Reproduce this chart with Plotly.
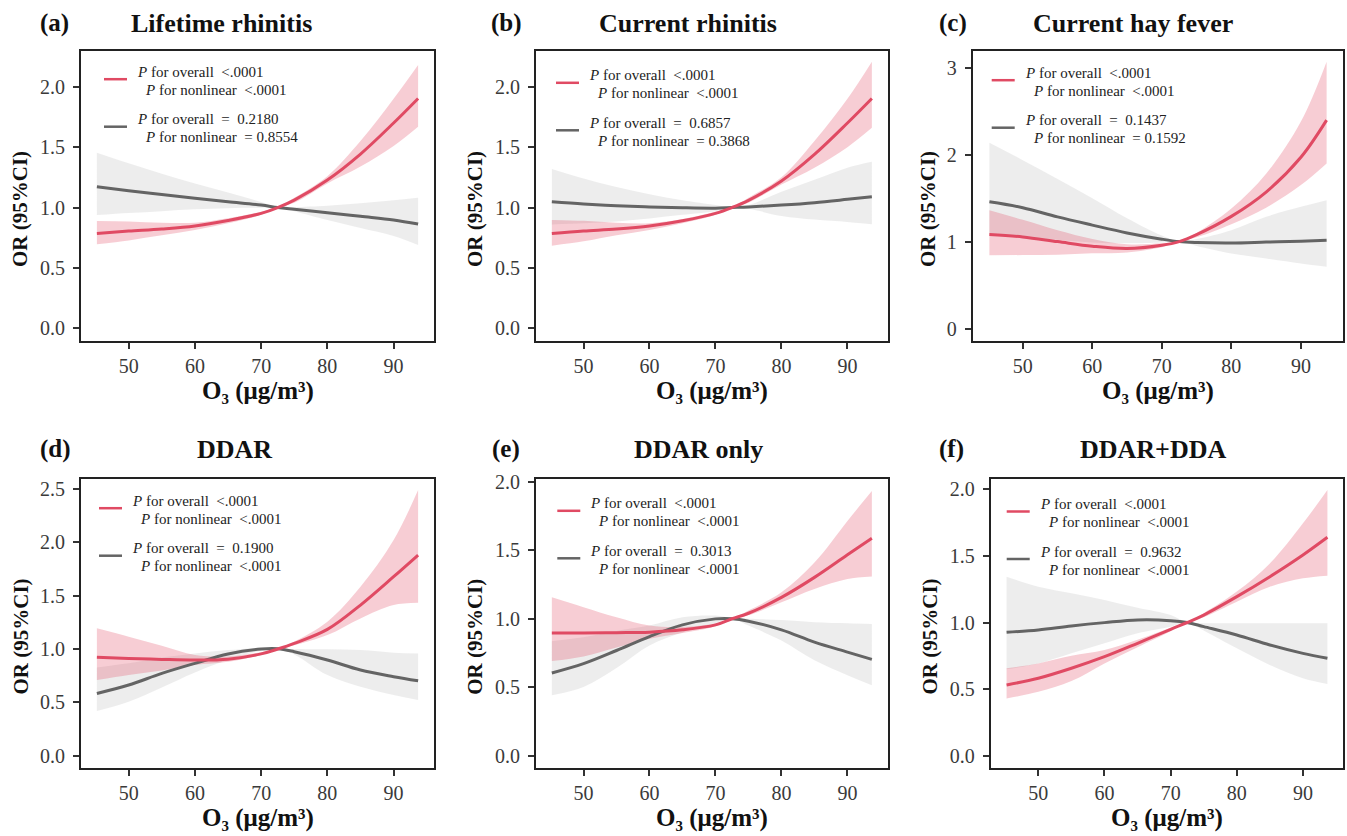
import plotly.graph_objects as go

W, H = 1347, 836

# ---------------- data ----------------
X = [45.2, 50, 55, 60, 65, 70, 72.5, 75, 80, 85, 90, 93.7]

A_RED_EST = [0.786, 0.805, 0.822, 0.847, 0.893, 0.952, 1.0, 1.062, 1.228, 1.443, 1.70, 1.903]
A_RED_LO = [0.695, 0.728, 0.77, 0.814, 0.87, 0.94, 1.0, 1.04, 1.2, 1.34, 1.51, 1.669]
A_RED_HI = [0.888, 0.885, 0.875, 0.875, 0.912, 0.965, 1.0, 1.08, 1.26, 1.55, 1.90, 2.18]
A_GRAY_EST = [1.172, 1.139, 1.107, 1.076, 1.048, 1.021, 1.0, 0.985, 0.957, 0.927, 0.897, 0.863]
A_GRAY_LO = [0.938, 0.955, 0.97, 0.985, 0.995, 0.998, 1.0, 0.97, 0.897, 0.83, 0.765, 0.69]
A_GRAY_HI = [1.454, 1.366, 1.28, 1.2, 1.125, 1.045, 1.0, 1.003, 1.015, 1.035, 1.06, 1.081]

B_RED_EST = [0.786, 0.806, 0.822, 0.847, 0.89, 0.952, 1.0, 1.06, 1.22, 1.44, 1.70, 1.903]
B_RED_LO = [0.684, 0.72, 0.77, 0.815, 0.87, 0.94, 1.0, 1.04, 1.19, 1.33, 1.50, 1.66]
B_RED_HI = [0.897, 0.89, 0.875, 0.87, 0.905, 0.965, 1.0, 1.08, 1.25, 1.55, 1.90, 2.207]
B_GRAY_EST = [1.048, 1.03, 1.015, 1.005, 0.998, 0.995, 1.0, 1.005, 1.02, 1.04, 1.068, 1.09]
B_GRAY_LO = [0.86, 0.87, 0.885, 0.91, 0.94, 0.97, 1.0, 0.99, 0.93, 0.9, 0.88, 0.861]
B_GRAY_HI = [1.319, 1.24, 1.17, 1.11, 1.06, 1.02, 1.0, 1.02, 1.13, 1.23, 1.33, 1.379]

C_RED_EST = [1.082, 1.054, 1.0, 0.947, 0.92, 0.958, 1.0, 1.08, 1.29, 1.57, 1.97, 2.397]
C_RED_LO = [0.844, 0.845, 0.85, 0.865, 0.875, 0.935, 1.0, 1.05, 1.2, 1.39, 1.65, 1.899]
C_RED_HI = [1.36, 1.25, 1.13, 1.03, 0.97, 0.98, 1.0, 1.1, 1.38, 1.78, 2.38, 3.069]
C_GRAY_EST = [1.458, 1.39, 1.284, 1.19, 1.10, 1.028, 1.0, 0.99, 0.985, 0.995, 1.005, 1.016]
C_GRAY_LO = [1.07, 1.05, 1.02, 0.99, 0.98, 0.99, 1.0, 0.95, 0.863, 0.806, 0.748, 0.71]
C_GRAY_HI = [2.137, 1.937, 1.72, 1.5, 1.27, 1.07, 1.0, 1.03, 1.132, 1.285, 1.4, 1.477]

D_RED_EST = [0.922, 0.9125, 0.903, 0.897, 0.905, 0.955, 1.0, 1.053, 1.184, 1.4125, 1.678, 1.881]
D_RED_LO = [0.709, 0.756, 0.8, 0.85, 0.88, 0.945, 1.0, 1.035, 1.131, 1.2875, 1.4125, 1.434]
D_RED_HI = [1.194, 1.116, 1.03, 0.944, 0.93, 0.97, 1.0, 1.07, 1.256, 1.584, 2.022, 2.49]
D_GRAY_EST = [0.584, 0.6625, 0.772, 0.866, 0.953, 1.0, 1.003, 0.975, 0.897, 0.803, 0.741, 0.703]
D_GRAY_LO = [0.419, 0.506, 0.64, 0.781, 0.9, 0.985, 1.0, 0.95, 0.756, 0.647, 0.569, 0.522]
D_GRAY_HI = [0.828, 0.866, 0.92, 0.959, 0.99, 1.01, 1.005, 1.0, 0.997, 0.99, 0.966, 0.959]

E_RED_EST = [0.895, 0.895, 0.898, 0.902, 0.919, 0.955, 1.0, 1.04, 1.156, 1.302, 1.467, 1.588]
E_RED_LO = [0.691, 0.725, 0.79, 0.853, 0.895, 0.945, 1.0, 1.025, 1.12, 1.217, 1.29, 1.309]
E_RED_HI = [1.156, 1.084, 1.01, 0.95, 0.94, 0.965, 1.0, 1.06, 1.193, 1.41, 1.714, 1.932]
E_GRAY_EST = [0.604, 0.672, 0.768, 0.87, 0.955, 0.999, 1.0, 0.982, 0.919, 0.829, 0.756, 0.703]
E_GRAY_LO = [0.441, 0.502, 0.64, 0.805, 0.9, 0.967, 1.0, 0.95, 0.841, 0.696, 0.587, 0.514]
E_GRAY_HI = [0.836, 0.865, 0.91, 0.95, 1.01, 1.023, 1.003, 1.0, 0.99, 0.975, 0.967, 0.962]

F_RED_EST = [0.531, 0.581, 0.656, 0.743, 0.844, 0.949, 1.0, 1.056, 1.194, 1.344, 1.507, 1.64]
F_RED_LO = [0.43, 0.48, 0.56, 0.693, 0.815, 0.935, 1.0, 1.04, 1.156, 1.269, 1.332, 1.352]
F_RED_HI = [0.656, 0.693, 0.75, 0.793, 0.87, 0.96, 1.0, 1.07, 1.232, 1.444, 1.745, 1.995]
F_GRAY_EST = [0.926, 0.944, 0.974, 0.999, 1.019, 1.014, 1.0, 0.969, 0.906, 0.831, 0.768, 0.731]
F_GRAY_LO = [0.648, 0.693, 0.77, 0.844, 0.92, 0.969, 1.0, 0.94, 0.806, 0.681, 0.581, 0.538]
F_GRAY_HI = [1.344, 1.269, 1.22, 1.169, 1.11, 1.056, 1.0, 0.995, 0.994, 0.994, 0.994, 0.994]

LETTERS = ["(a)", "(b)", "(c)", "(d)", "(e)", "(f)"]
TITLES = ["Lifetime rhinitis", "Current rhinitis", "Current hay fever", "DDAR", "DDAR only", "DDAR+DDA"]
RED_OVERALL = ["<.0001"] * 6
RED_NONLIN = ["<.0001"] * 6
GRAY_OVERALL = ["0.2180", "0.6857", "0.1437", "0.1900", "0.3013", "0.9632"]
GRAY_NONLIN = ["= 0.8554", "= 0.3868", "= 0.1592", "<.0001", "<.0001", "<.0001"]
X_TICKS = [50, 60, 70, 80, 90]
Y_TICKS = [
    [0, 0.5, 1.0, 1.5, 2.0],
    [0, 0.5, 1.0, 1.5, 2.0],
    [0, 1, 2, 3],
    [0, 0.5, 1.0, 1.5, 2.0, 2.5],
    [0, 0.5, 1.0, 1.5, 2.0],
    [0, 0.5, 1.0, 1.5, 2.0],
]
X_TITLE = "O\u2083 (\u03bcg/m\u00b3)"
Y_TITLE = "OR (95%CI)"

PANELS = [
    (A_RED_EST, A_RED_LO, A_RED_HI, A_GRAY_EST, A_GRAY_LO, A_GRAY_HI),
    (B_RED_EST, B_RED_LO, B_RED_HI, B_GRAY_EST, B_GRAY_LO, B_GRAY_HI),
    (C_RED_EST, C_RED_LO, C_RED_HI, C_GRAY_EST, C_GRAY_LO, C_GRAY_HI),
    (D_RED_EST, D_RED_LO, D_RED_HI, D_GRAY_EST, D_GRAY_LO, D_GRAY_HI),
    (E_RED_EST, E_RED_LO, E_RED_HI, E_GRAY_EST, E_GRAY_LO, E_GRAY_HI),
    (F_RED_EST, F_RED_LO, F_RED_HI, F_GRAY_EST, F_GRAY_LO, F_GRAY_HI),
]

# ---------------- layout constants (pixels) ----------------
BOXES = [  # left, top, right, bottom
    (81, 51, 434, 341),
    (536, 51, 887.7, 341),
    (972.7, 51, 1343.3, 341),
    (81, 478.7, 434, 768.3),
    (536, 479.3, 887.7, 768.3),
    (990.7, 478.7, 1343.3, 768.3),
]
Y_RANGES = [[-0.105, 2.296], [-0.105, 2.296], [-0.143, 3.192],
            [-0.118, 2.597], [-0.092, 2.018], [-0.095, 2.08]]
X_RANGE = [42.8, 96.1]
LETTER_POS = [(54.5, 23), (506.7, 23), (953.3, 23), (55.3, 449), (505.8, 449), (951.7, 449)]
TITLE_POS = [(222, 23), (687.5, 23), (1132.5, 23), (234.5, 449), (698, 449), (1153, 449)]
YTITLE_X = [20, 475, 928, 20, 475, 929]
LEG_ANCHOR = [(104, 71.7), (556, 75.3), (991.7, 72.7), (99, 500.7), (557.3, 503.3), (1006.7, 504)]

RED = "#E04A63"
RED_FILL = "rgba(226,70,97,0.27)"
GRAY = "#646464"
GRAY_FILL = "rgba(150,150,150,0.17)"
SERIF = "Liberation Serif"
NB = "\u00a0"


def px(x):
    return x / W


def py(y):
    return 1 - y / H


fig = go.Figure()
annotations = []
shapes = []

for i, (box, data) in enumerate(zip(BOXES, PANELS)):
    n = "" if i == 0 else str(i + 1)
    xa, ya = "x" + n, "y" + n
    r_est, r_lo, r_hi, g_est, g_lo, g_hi = data
    for lo, hi, fc in ((g_lo, g_hi, GRAY_FILL), (r_lo, r_hi, RED_FILL)):
        fig.add_trace(go.Scatter(x=X, y=lo, mode="lines", line=dict(width=0, shape="spline"),
                                 hoverinfo="skip", showlegend=False, xaxis=xa, yaxis=ya))
        fig.add_trace(go.Scatter(x=X, y=hi, mode="lines", line=dict(width=0, shape="spline"),
                                 fill="tonexty", fillcolor=fc,
                                 hoverinfo="skip", showlegend=False, xaxis=xa, yaxis=ya))
    fig.add_trace(go.Scatter(x=X, y=g_est, mode="lines", line=dict(color=GRAY, width=3, shape="spline"),
                             showlegend=False, xaxis=xa, yaxis=ya))
    fig.add_trace(go.Scatter(x=X, y=r_est, mode="lines", line=dict(color=RED, width=3, shape="spline"),
                             showlegend=False, xaxis=xa, yaxis=ya))

    l, t, r, b = box
    yt = Y_TICKS[i]
    is_int = i == 2
    fig.layout["xaxis" + n] = dict(
        domain=[px(l), px(r)], anchor=ya, range=X_RANGE, tickvals=X_TICKS,
        ticks="outside", ticklen=6, tickwidth=1.6, tickcolor="#333",
        showline=True, mirror=True, linecolor="#222", linewidth=2,
        showgrid=False, zeroline=False, automargin=False,
        tickfont=dict(family=SERIF, size=20, color="#3a3a3a"),
    )
    fig.layout["yaxis" + n] = dict(
        domain=[py(b), py(t)], anchor=xa, range=Y_RANGES[i], tickvals=yt,
        ticktext=[(str(int(v)) if is_int else f"{v:.1f}") for v in yt],
        ticks="outside", ticklen=6, tickwidth=1.6, tickcolor="#333",
        showline=True, mirror=True, linecolor="#222", linewidth=2,
        showgrid=False, zeroline=False, ticklabelstandoff=4, automargin=False,
        tickfont=dict(family=SERIF, size=20, color="#3a3a3a"),
    )

    # titles
    lx, ly = LETTER_POS[i]
    annotations.append(dict(x=px(lx), y=py(ly), xref="paper", yref="paper", text=f"<b>{LETTERS[i]}</b>",
                            showarrow=False, xanchor="center", yanchor="middle",
                            font=dict(family=SERIF, size=25, color="#111")))
    tx, ty = TITLE_POS[i]
    annotations.append(dict(x=px(tx), y=py(ty), xref="paper", yref="paper", text=f"<b>{TITLES[i]}</b>",
                            showarrow=False, xanchor="center", yanchor="middle",
                            font=dict(family=SERIF, size=26, color="#111")))
    # axis titles
    annotations.append(dict(x=px((l + r) / 2), y=py(b + 50), xref="paper", yref="paper",
                            text=f"<b>{X_TITLE}</b>", showarrow=False, xanchor="center", yanchor="middle",
                            font=dict(family=SERIF, size=25, color="#111")))
    annotations.append(dict(x=px(YTITLE_X[i]), y=py((t + b) / 2 + 13), xref="paper", yref="paper",
                            text=f"<b>{Y_TITLE}</b>", showarrow=False, textangle=-90,
                            xanchor="center", yanchor="middle",
                            font=dict(family=SERIF, size=21, color="#111")))

    # legend (p-values)
    ax0, ay0 = LEG_ANCHOR[i]
    entries = [
        (RED, f"<i>P</i> for overall{NB}{NB}{RED_OVERALL[i]}", f"<i>P</i> for nonlinear{NB}{NB}{RED_NONLIN[i]}", 0),
        (GRAY, f"<i>P</i> for overall{NB}{NB}={NB}{NB}{GRAY_OVERALL[i]}",
         f"<i>P</i> for nonlinear{NB}{NB}{GRAY_NONLIN[i].replace(' ', NB)}", 47.5),
    ]
    for col, t1, t2, dy in entries:
        shapes.append(dict(type="line", xref="paper", yref="paper",
                           x0=px(ax0), x1=px(ax0 + 23), y0=py(ay0 + dy + 7.5), y1=py(ay0 + dy + 7.5),
                           line=dict(color=col, width=2.5)))
        annotations.append(dict(x=px(ax0 + 31), y=py(ay0 + dy), xref="paper", yref="paper", text=t1,
                                showarrow=False, xanchor="left", yanchor="middle",
                                font=dict(family=SERIF, size=15, color="#222")))
        annotations.append(dict(x=px(ax0 + 39), y=py(ay0 + dy + 18), xref="paper", yref="paper", text=t2,
                                showarrow=False, xanchor="left", yanchor="middle",
                                font=dict(family=SERIF, size=15, color="#222")))

fig.update_layout(
    width=W, height=H, margin=dict(l=0, r=0, t=0, b=0, pad=0, autoexpand=False),
    paper_bgcolor="white", plot_bgcolor="white",
    annotations=annotations, shapes=shapes, showlegend=False,
)

fig.write_html("out.html", config={"displayModeBar": False},
               post_script="document.body.style.margin='0';")
